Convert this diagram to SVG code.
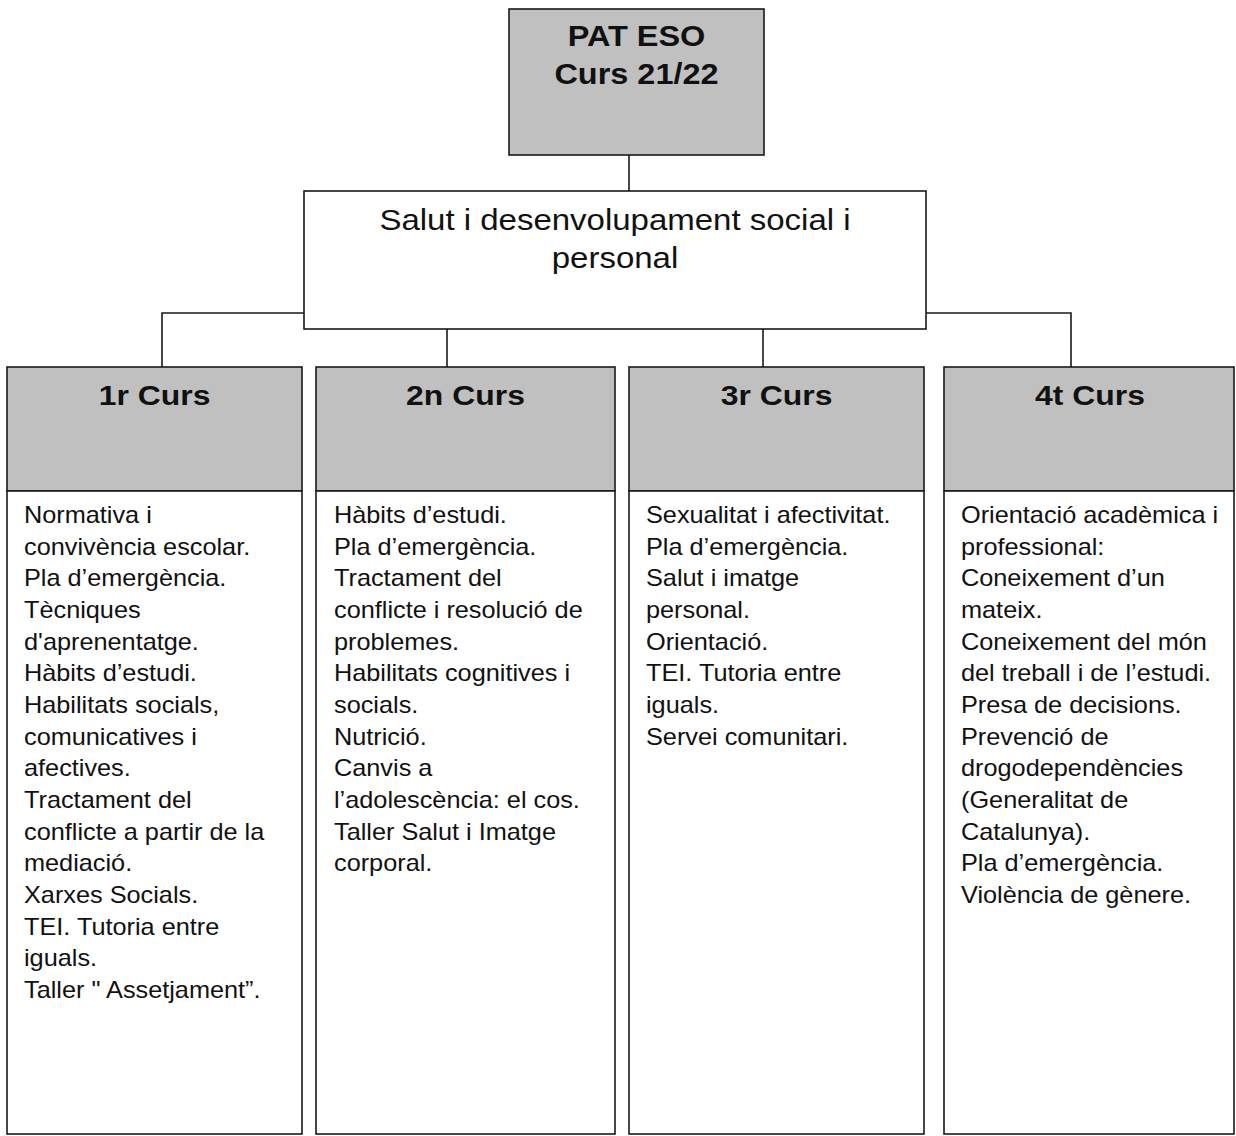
<svg xmlns="http://www.w3.org/2000/svg" width="1236" height="1136" viewBox="0 0 1236 1136">
<style>
.box{stroke:#1a1a1a;stroke-width:1.6}
.gray{fill:#c0c0c0}
.white{fill:#ffffff}
.conn{fill:none;stroke:#1a1a1a;stroke-width:1.6}
text{font-family:"Liberation Sans",Arial,sans-serif;fill:#111}
.title{font-size:29px;font-weight:bold;text-anchor:middle}
.head{font-size:28.5px;font-weight:bold;text-anchor:middle}
.mid{font-size:30px;text-anchor:middle}
.body{font-size:23px}
</style>
<rect x="0" y="0" width="1236" height="1136" fill="#ffffff"/>
<g id="connectors">
<path class="conn" d="M629 155 V191"/>
<path class="conn" d="M304 313 H162 V367"/>
<path class="conn" d="M926 313 H1071 V367"/>
<path class="conn" d="M447 329 V367"/>
<path class="conn" d="M763 329 V367"/>
</g>
<g id="root">
<rect class="box gray" x="509" y="9" width="255" height="146"/>
<g transform="translate(636.5,0) scale(1.12,1)">
<text class="title" x="0" y="46">PAT ESO</text>
<text class="title" x="0" y="84">Curs 21/22</text>
</g>
</g>
<g id="salut">
<rect class="box white" x="304" y="191" width="622" height="138"/>
<g transform="translate(615,0) scale(1.1,1)">
<text class="mid" x="0" y="230">Salut i desenvolupament social i</text>
<text class="mid" x="0" y="268">personal</text>
</g>
</g>
<g id="curs1">
<rect class="box gray" x="7" y="367" width="295" height="124"/>
<rect class="box white" x="7" y="491" width="295" height="643"/>
<g transform="translate(154.5,0) scale(1.12,1)"><text class="head" x="0" y="405">1r Curs</text></g>
<g transform="translate(24,0) scale(1.1,1)">
<text class="body" x="0" y="523">Normativa i</text>
<text class="body" x="0" y="554.7">convivència escolar.</text>
<text class="body" x="0" y="586.3">Pla d’emergència.</text>
<text class="body" x="0" y="618">Tècniques</text>
<text class="body" x="0" y="649.7">d'aprenentatge.</text>
<text class="body" x="0" y="681.3">Hàbits d’estudi.</text>
<text class="body" x="0" y="713">Habilitats socials,</text>
<text class="body" x="0" y="744.7">comunicatives i</text>
<text class="body" x="0" y="776.3">afectives.</text>
<text class="body" x="0" y="808">Tractament del</text>
<text class="body" x="0" y="839.7">conflicte a partir de la</text>
<text class="body" x="0" y="871.3">mediació.</text>
<text class="body" x="0" y="903">Xarxes Socials.</text>
<text class="body" x="0" y="934.7">TEI. Tutoria entre</text>
<text class="body" x="0" y="966.3">iguals.</text>
<text class="body" x="0" y="998">Taller " Assetjament”.</text>
</g>
</g>
<g id="curs2">
<rect class="box gray" x="316" y="367" width="299" height="124"/>
<rect class="box white" x="316" y="491" width="299" height="643"/>
<g transform="translate(465.5,0) scale(1.12,1)"><text class="head" x="0" y="405">2n Curs</text></g>
<g transform="translate(334,0) scale(1.1,1)">
<text class="body" x="0" y="523">Hàbits d’estudi.</text>
<text class="body" x="0" y="554.7">Pla d’emergència.</text>
<text class="body" x="0" y="586.3">Tractament del</text>
<text class="body" x="0" y="618">conflicte i resolució de</text>
<text class="body" x="0" y="649.7">problemes.</text>
<text class="body" x="0" y="681.3">Habilitats cognitives i</text>
<text class="body" x="0" y="713">socials.</text>
<text class="body" x="0" y="744.7">Nutrició.</text>
<text class="body" x="0" y="776.3">Canvis a</text>
<text class="body" x="0" y="808">l’adolescència: el cos.</text>
<text class="body" x="0" y="839.7">Taller Salut i Imatge</text>
<text class="body" x="0" y="871.3">corporal.</text>
</g>
</g>
<g id="curs3">
<rect class="box gray" x="629" y="367" width="295" height="124"/>
<rect class="box white" x="629" y="491" width="295" height="643"/>
<g transform="translate(776.5,0) scale(1.12,1)"><text class="head" x="0" y="405">3r Curs</text></g>
<g transform="translate(646,0) scale(1.1,1)">
<text class="body" x="0" y="523">Sexualitat i afectivitat.</text>
<text class="body" x="0" y="554.7">Pla d’emergència.</text>
<text class="body" x="0" y="586.3">Salut i imatge</text>
<text class="body" x="0" y="618">personal.</text>
<text class="body" x="0" y="649.7">Orientació.</text>
<text class="body" x="0" y="681.3">TEI. Tutoria entre</text>
<text class="body" x="0" y="713">iguals.</text>
<text class="body" x="0" y="744.7">Servei comunitari.</text>
</g>
</g>
<g id="curs4">
<rect class="box gray" x="944" y="367" width="290" height="124"/>
<rect class="box white" x="944" y="491" width="290" height="643"/>
<g transform="translate(1090,0) scale(1.12,1)"><text class="head" x="0" y="405">4t Curs</text></g>
<g transform="translate(961,0) scale(1.1,1)">
<text class="body" x="0" y="523">Orientació acadèmica i</text>
<text class="body" x="0" y="554.7">professional:</text>
<text class="body" x="0" y="586.3">Coneixement d’un</text>
<text class="body" x="0" y="618">mateix.</text>
<text class="body" x="0" y="649.7">Coneixement del món</text>
<text class="body" x="0" y="681.3">del treball i de l’estudi.</text>
<text class="body" x="0" y="713">Presa de decisions.</text>
<text class="body" x="0" y="744.7">Prevenció de</text>
<text class="body" x="0" y="776.3">drogodependències</text>
<text class="body" x="0" y="808">(Generalitat de</text>
<text class="body" x="0" y="839.7">Catalunya).</text>
<text class="body" x="0" y="871.3">Pla d’emergència.</text>
<text class="body" x="0" y="903">Violència de gènere.</text>
</g>
</g>
</svg>
